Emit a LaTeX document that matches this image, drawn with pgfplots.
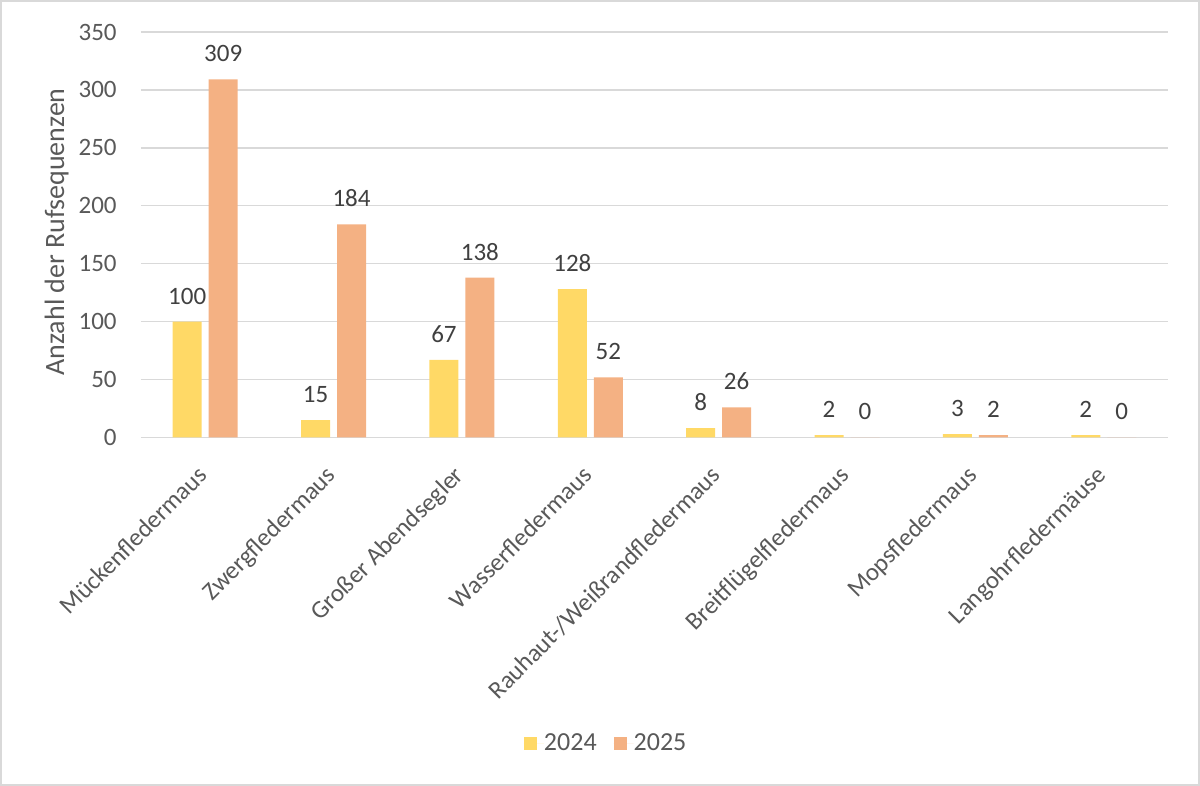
\documentclass[border=0pt]{standalone}
\usepackage{fontspec}
\setmainfont{Carlito}
\usepackage{pgfplots}
\pgfplotsset{compat=1.18}
\definecolor{cy}{HTML}{FFD966}
\definecolor{co}{HTML}{F4B183}
\definecolor{txt}{HTML}{595959}
\definecolor{lbl}{HTML}{404040}
\definecolor{grd}{HTML}{D9D9D9}
\begin{document}
\begin{tikzpicture}
\path[use as bounding box] (-70.5pt,-174.25pt) rectangle (529.5pt,218.75pt);
\draw[grd, line width=1pt] (-70pt,-173.75pt) rectangle (529pt,218.25pt);
\begin{axis}[
  at={(0,0)}, anchor=south west,
  scale only axis, width=513.5pt, height=202.75pt,
  xmin=-0.5, xmax=7.5, ymin=0, ymax=350,
  ytick={0,50,...,350},
  xtick={0,...,7},
  xticklabels={Mückenfledermaus,Zwergfledermaus,Großer Abendsegler,Wasserfledermaus,Rauhaut-/Weißrandfledermaus,Breitflügelfledermaus,Mopsfledermaus,Langohrfledermäuse},
  ymajorgrids, grid style={grd, line width=0.7pt},
  axis line style={draw=none},
  major tick length=0pt,
  tick label style={font=\fontsize{12.5}{14}\selectfont, text=txt},
  /pgf/number format/assume math mode=true,
  xticklabel style={rotate=45, anchor=north east, inner sep=0pt, yshift=-6.2pt, xshift=-12.6pt},
  yticklabel style={anchor=east, inner sep=0pt, xshift=-12pt},
  every axis y label/.style={at={(axis description cs:-0.082,0.507)}, rotate=90, anchor=center, font=\fontsize{14}{16}\selectfont, text=txt},
  ylabel={Anzahl der Rufsequenzen},
  ybar, bar width=0.226,
  nodes near coords,
  nodes near coords style={font=\fontsize{12.5}{14}\selectfont, text=lbl, anchor=south, inner sep=0pt, yshift=8.5pt},
  clip=false,
  legend style={at={(axis description cs:0.452,-0.755)}, anchor=center, draw=none, legend columns=2, font=\fontsize{13}{15}\selectfont, text=txt, nodes={inner sep=0pt}, /tikz/every even column/.append style={column sep=8.5pt}},
  legend image code/.code={\path (0pt,0pt) -- (10pt,0pt); \fill[#1] (0pt,-3.25pt) rectangle (6.5pt,3.25pt);},
]
\addplot[fill=cy, draw=none, bar shift=-0.14] coordinates {(0,100) (1,15) (2,67) (3,128) (4,8) (5,2) (6,3) (7,2)};
\addplot[fill=co, draw=none, bar shift=0.14] coordinates {(0,309) (1,184) (2,138) (3,52) (4,26) (5,0) (6,2) (7,0)};
\legend{2024,2025}
\end{axis}
\end{tikzpicture}
\end{document}
